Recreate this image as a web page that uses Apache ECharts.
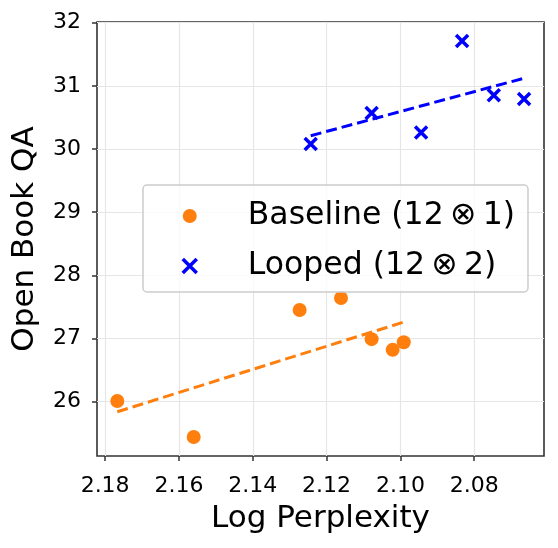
<!DOCTYPE html>
<html>
<head>
<meta charset="utf-8">
<script src="https://cdn.jsdelivr.net/npm/echarts@6/dist/echarts.min.js"></script>
<style>
  html, body { margin: 0; padding: 0; background: #fff; }
  #chart { width: 558px; height: 548px; }
</style>
</head>
<body>
<div id="chart"></div>
<script>
// values
const baselineX = [2.1767, 2.1560, 2.1273, 2.1161, 2.1078, 2.1021, 2.0991]
const baselineY = [26.01, 25.44, 27.45, 27.64, 26.99, 26.82, 26.94]
const loopedX = [2.1243, 2.1078, 2.0944, 2.0833, 2.0747, 2.0665]
const loopedY = [30.08, 30.57, 30.26, 31.71, 30.85, 30.79]

// dashed trend lines, start and end
const baselineTrendX = [2.1767, 2.0991]
const baselineTrendY = [25.84, 27.26]
const loopedTrendX = [2.1243, 2.0665]
const loopedTrendY = [30.21, 31.12]

const xTicks = [2.08, 2.10, 2.12, 2.14, 2.16, 2.18]
const yTicks = [26, 27, 28, 29, 30, 31, 32]

const baselineName = 'Baseline (12\u2009\u2297\u20091)'
const loopedName = 'Looped (12\u2009\u2297\u20092)'

const pairs = (xs, ys) => xs.map((x, i) => [x, ys[i]])

const font = 'DejaVu Sans'
const spine = '#333333'
const gridColor = '#e6e6e6'

const crossPath = 'path://M0,0 L10,10 M10,0 L0,10'

const myChart = echarts.init(document.getElementById('chart'))

const option = {
  animation: false,
  grid: {
    left: 97, right: 14, top: 22, bottom: 92,
    show: true,
    borderColor: spine,
    borderWidth: 1.6,
    containLabel: false
  },
  legend: {
    orient: 'vertical',
    left: 143,
    top: 185,
    padding: [15, 13, 10, 38],
    itemGap: 18,
    itemWidth: 14,
    itemHeight: 14,
    backgroundColor: 'rgba(255,255,255,0.8)',
    borderColor: '#cccccc',
    borderWidth: 1.5,
    borderRadius: 4,
    textStyle: {
      fontFamily: font,
      fontSize: 31.5,
      color: '#000',
      padding: [0, 0, 0, 46]
    },
    data: [
      { name: baselineName },
      { name: loopedName, itemStyle: { borderWidth: 3.5 } }
    ]
  },
  xAxis: {
    type: 'value',
    inverse: true,
    min: 2.0611,
    max: 2.1822,
    name: 'Log Perplexity',
    nameLocation: 'middle',
    nameGap: 47,
    nameTextStyle: { fontFamily: font, fontSize: 31, color: '#000' },
    axisLine: { show: false },
    axisTick: {
      show: true, length: 5, customValues: xTicks,
      lineStyle: { color: spine, width: 1.5 }
    },
    axisLabel: {
      customValues: xTicks,
      margin: 19,
      fontFamily: font, fontSize: 22, color: '#000',
      formatter: v => v.toFixed(2)
    },
    splitLine: {
      show: true, customValues: xTicks,
      lineStyle: { color: gridColor, width: 1.2 }
    }
  },
  yAxis: {
    type: 'value',
    min: 25.14,
    max: 32.01,
    name: 'Open Book QA',
    nameLocation: 'middle',
    nameGap: 57,
    nameTextStyle: { fontFamily: font, fontSize: 31, color: '#000' },
    axisLine: { show: false },
    axisTick: {
      show: true, length: 5, customValues: yTicks,
      lineStyle: { color: spine, width: 1.5 }
    },
    axisLabel: {
      customValues: yTicks,
      margin: 16,
      fontFamily: font, fontSize: 22, color: '#000'
    },
    splitLine: {
      show: true, customValues: yTicks,
      lineStyle: { color: gridColor, width: 1.2 }
    }
  },
  series: [
    {
      name: baselineName,
      type: 'scatter',
      data: pairs(baselineX, baselineY),
      symbol: 'circle',
      symbolSize: 14,
      itemStyle: { color: '#ff7f0e', opacity: 1 },
      z: 2
    },
    {
      name: loopedName,
      type: 'scatter',
      data: pairs(loopedX, loopedY),
      symbol: crossPath,
      symbolSize: 12,
      itemStyle: { color: '#0000ff', borderColor: '#0000ff', borderWidth: 3.5, opacity: 1 },
      z: 2
    },
    {
      type: 'line',
      data: pairs(baselineTrendX, baselineTrendY),
      showSymbol: false,
      lineStyle: { color: '#ff7f0e', width: 3, type: [11, 5] },
      z: 3,
      silent: true
    },
    {
      type: 'line',
      data: pairs(loopedTrendX, loopedTrendY),
      showSymbol: false,
      lineStyle: { color: '#0000ff', width: 3, type: [11, 5] },
      z: 3,
      silent: true
    }
  ]
}

myChart.setOption(option)
</script>
</body>
</html>
